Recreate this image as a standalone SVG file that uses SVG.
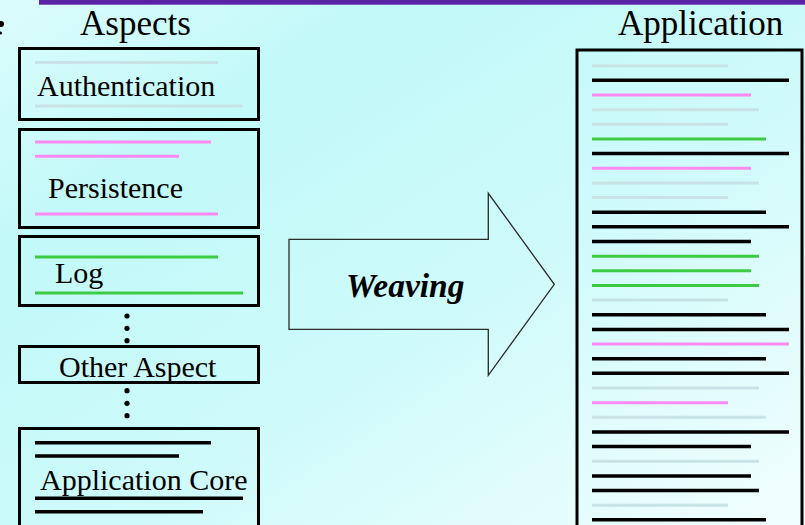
<svg xmlns="http://www.w3.org/2000/svg" width="805" height="525" viewBox="0 0 805 525">
  <defs>
    <linearGradient id="bg" x1="0" y1="0" x2="1" y2="1">
      <stop offset="0" stop-color="#dcfcfc"/>
      <stop offset="0.25" stop-color="#c2f9f9"/>
      <stop offset="0.55" stop-color="#cdfafa"/>
      <stop offset="1" stop-color="#f2fefe"/>
    </linearGradient>
    <style>
      .box { fill: none; stroke: #000; stroke-width: 3; }
      .lbl { font-family: "Liberation Serif", "Times New Roman", serif; font-size: 30px; fill: #000; }
      .hdr { font-family: "Liberation Serif", "Times New Roman", serif; font-size: 35px; fill: #000; }
      .ln { stroke-width: 3; stroke-linecap: butt; fill: none; }
      .k { stroke: #000; stroke-width: 3.5; }
      .g { stroke: #c8e3e6; }
      .p { stroke: #fb8af2; }
      .v { stroke: #3ecb44; }
      .dot { fill: #000; }
    </style>
  </defs>

  <!-- background -->
  <rect x="0" y="0" width="805" height="525" fill="url(#bg)"/>
  <!-- title rule -->
  <rect x="39" y="0" width="766" height="4.7" fill="#5a22a4"/>
  <!-- bullet mark at left edge -->
  <circle cx="1" cy="24" r="3" fill="#000"/>
  <circle cx="0.5" cy="33" r="1.5" fill="#000"/>

  <!-- headers -->
  <text class="hdr" x="80" y="35">Aspects</text>
  <text class="hdr" x="618" y="35">Application</text>

  <!-- Aspect modules -->
  <g id="authentication">
    <rect class="box" x="19.5" y="48.5" width="239" height="71"/>
    <line class="ln g" x1="35" y1="62.5" x2="218" y2="62.5"/>
    <text class="lbl" x="37" y="96">Authentication</text>
    <line class="ln g" x1="35" y1="106" x2="243" y2="106"/>
  </g>

  <g id="persistence">
    <rect class="box" x="19.5" y="129.5" width="239" height="98"/>
    <line class="ln p" x1="35" y1="142" x2="211" y2="142"/>
    <line class="ln p" x1="35" y1="156.3" x2="179" y2="156.3"/>
    <text class="lbl" x="48" y="198">Persistence</text>
    <line class="ln p" x1="35" y1="214" x2="218" y2="214"/>
  </g>

  <g id="log">
    <rect class="box" x="19.5" y="236.5" width="239" height="69"/>
    <line class="ln v" x1="35" y1="257" x2="218" y2="257"/>
    <text class="lbl" x="55" y="283">Log</text>
    <line class="ln v" x1="35" y1="293" x2="243" y2="293"/>
  </g>

  <g id="ellipsis-1">
    <circle class="dot" cx="127" cy="316" r="2.6"/>
    <circle class="dot" cx="127" cy="328.3" r="2.6"/>
    <circle class="dot" cx="127" cy="340.7" r="2.6"/>
  </g>

  <g id="other-aspect">
    <rect class="box" x="19.5" y="346.5" width="239" height="36"/>
    <text class="lbl" x="59" y="377">Other Aspect</text>
  </g>

  <g id="ellipsis-2">
    <circle class="dot" cx="127" cy="390.7" r="2.6"/>
    <circle class="dot" cx="127" cy="403.3" r="2.6"/>
    <circle class="dot" cx="127" cy="415.7" r="2.6"/>
  </g>

  <g id="application-core">
    <rect class="box" x="19.5" y="428.5" width="239" height="110"/>
    <line class="ln k" x1="35" y1="442.7" x2="211" y2="442.7"/>
    <line class="ln k" x1="35" y1="456" x2="179" y2="456"/>
    <text class="lbl" x="40" y="490">Application Core</text>
    <line class="ln k" x1="35" y1="498.3" x2="243" y2="498.3"/>
    <line class="ln k" x1="35" y1="511.7" x2="203" y2="511.7"/>
  </g>

  <!-- weaving arrow -->
  <g id="connectors">
    <g id="weaving">
      <polygon points="289,239.3 488.3,239.3 488.3,193.3 554.3,284.3 488.3,375.3 488.3,329.3 289,329.3"
               fill="none" stroke="#2a2a2a" stroke-width="1.3" stroke-linejoin="miter"/>
      <text x="346" y="297" font-family="Liberation Serif, 'Times New Roman', serif" font-size="33.5"
            font-weight="bold" font-style="italic" fill="#000">Weaving</text>
    </g>
  </g>

  <!-- woven application -->
  <g id="application">
    <rect class="box" x="577" y="50" width="225" height="500"/>
    <line class="ln g" x1="592" y1="65.7" x2="728" y2="65.7"/>
    <line class="ln k" x1="592" y1="80.35" x2="789" y2="80.35"/>
    <line class="ln p" x1="592" y1="95" x2="751" y2="95"/>
    <line class="ln g" x1="592" y1="109.65" x2="759" y2="109.65"/>
    <line class="ln g" x1="592" y1="124.3" x2="728" y2="124.3"/>
    <line class="ln v" x1="592" y1="138.95" x2="766" y2="138.95"/>
    <line class="ln k" x1="592" y1="153.6" x2="789" y2="153.6"/>
    <line class="ln p" x1="592" y1="168.25" x2="751" y2="168.25"/>
    <line class="ln g" x1="592" y1="182.9" x2="759" y2="182.9"/>
    <line class="ln g" x1="592" y1="197.55" x2="728" y2="197.55"/>
    <line class="ln k" x1="592" y1="212.2" x2="766" y2="212.2"/>
    <line class="ln k" x1="592" y1="226.85" x2="789" y2="226.85"/>
    <line class="ln k" x1="592" y1="241.5" x2="751" y2="241.5"/>
    <line class="ln v" x1="592" y1="256.15" x2="759" y2="256.15"/>
    <line class="ln v" x1="592" y1="270.8" x2="751" y2="270.8"/>
    <line class="ln v" x1="592" y1="285.45" x2="759" y2="285.45"/>
    <line class="ln g" x1="592" y1="300.1" x2="728" y2="300.1"/>
    <line class="ln k" x1="592" y1="314.75" x2="766" y2="314.75"/>
    <line class="ln k" x1="592" y1="329.4" x2="789" y2="329.4"/>
    <line class="ln p" x1="592" y1="344.05" x2="789" y2="344.05"/>
    <line class="ln k" x1="592" y1="358.7" x2="766" y2="358.7"/>
    <line class="ln k" x1="592" y1="373.35" x2="789" y2="373.35"/>
    <line class="ln g" x1="592" y1="388" x2="759" y2="388"/>
    <line class="ln p" x1="592" y1="402.65" x2="728" y2="402.65"/>
    <line class="ln g" x1="592" y1="417.3" x2="766" y2="417.3"/>
    <line class="ln k" x1="592" y1="431.95" x2="789" y2="431.95"/>
    <line class="ln k" x1="592" y1="446.6" x2="751" y2="446.6"/>
    <line class="ln g" x1="592" y1="461.25" x2="759" y2="461.25"/>
    <line class="ln k" x1="592" y1="475.9" x2="751" y2="475.9"/>
    <line class="ln k" x1="592" y1="490.55" x2="759" y2="490.55"/>
    <line class="ln g" x1="592" y1="505.2" x2="728" y2="505.2"/>
    <line class="ln k" x1="592" y1="519.85" x2="766" y2="519.85"/>
  </g>
</svg>
